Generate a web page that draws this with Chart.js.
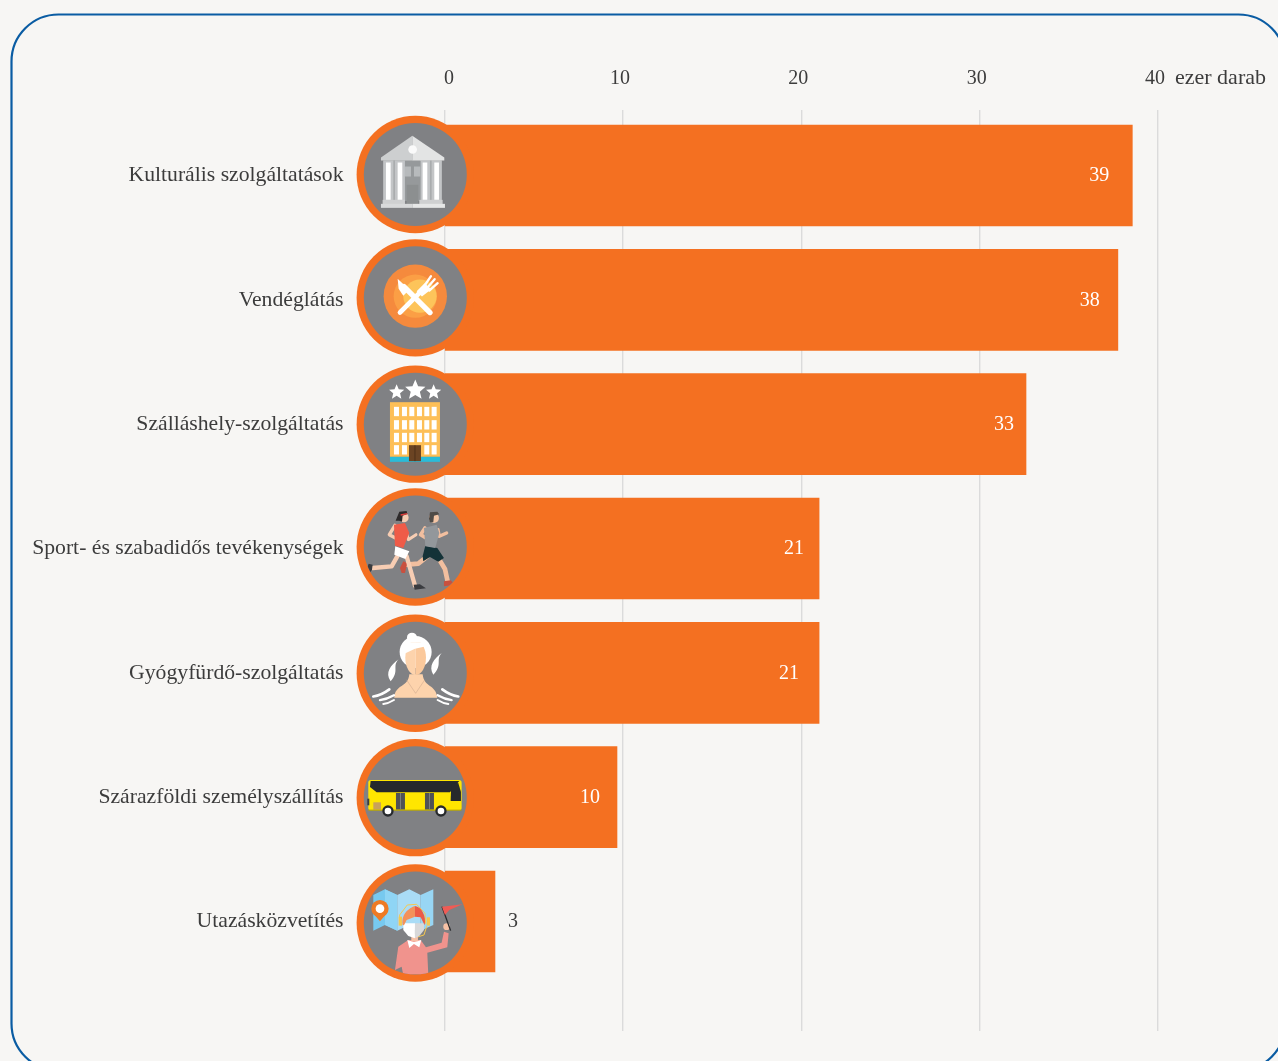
<!DOCTYPE html>
<html lang="hu">
<head>
<meta charset="utf-8">
<title>Szolgáltatások</title>
<style>
html,body{margin:0;padding:0;background:#f7f6f4;overflow:hidden}
canvas{display:block}
</style>
<script src="https://cdn.jsdelivr.net/npm/chart.js@4"></script>
</head>
<body>
<canvas id="c" width="1278" height="1061"></canvas>
<script>
const categories = ["Kulturális szolgáltatások","Vendéglátás","Szálláshely-szolgáltatás","Sport- és szabadidős tevékenységek","Gyógyfürdő-szolgáltatás","Szárazföldi személyszállítás","Utazásközvetítés"];
const values = [38.56,37.75,32.6,21.0,21.0,9.67,2.83];
const valueLabels = ["39","38","33","21","21","10","3"];
const tickValues = [0,10,20,30,40];
const unitLabel = "ezer darab";

const FONT = '"Liberation Serif", serif';
const ORANGE = '#f47021', GREY = '#808184', TEXT = '#3c3c3c', BG = '#f7f6f4';
const labelShift = [-33,-28,-22,-25,-30,-27,18];
const iconShift = [-1,-2,0,-1.5,0.5,0.5,1.5];

function poly(c,pts,fill){c.fillStyle=fill;c.beginPath();pts.forEach((p,i)=>i?c.lineTo(p[0],p[1]):c.moveTo(p[0],p[1]));c.closePath();c.fill();}
function rect(c,x0,y0,x1,y1,fill){c.fillStyle=fill;c.fillRect(x0,y0,x1-x0,y1-y0);}
function disc(c,x,y,r,fill){c.fillStyle=fill;c.beginPath();c.arc(x,y,r,0,Math.PI*2);c.fill();}
function oval(c,x,y,rx,ry,fill){c.fillStyle=fill;c.beginPath();c.ellipse(x,y,rx,ry,0,0,Math.PI*2);c.fill();}
function line(c,pts,w,col,cap){c.strokeStyle=col;c.lineWidth=w;c.lineCap=cap||'round';c.lineJoin='round';c.beginPath();pts.forEach((p,i)=>i?c.lineTo(p[0],p[1]):c.moveTo(p[0],p[1]));c.stroke();}
function star(c,x,y,r,fill){const p=[];for(let i=0;i<10;i++){const a=-Math.PI/2+i*Math.PI/5,q=i%2?r*0.45:r;p.push([x+q*Math.cos(a),y+q*Math.sin(a)]);}poly(c,p,fill);}

/* Icons are drawn in zoomed-up (3x) units around the circle's centre */
const icons = [
function(c){c.translate(-196,-194);
  rect(c,100,152,276,272,'#a9acae');
  [[105,125],[140,160],[215,235],[250,270]].forEach(a=>{rect(c,a[0]-5,152,a[1]+5,272,'#c3c5c7');rect(c,a[0]+3,158,a[1]-3,270,'#ffffff');});
  rect(c,165,152,212,272,'#96999b');
  rect(c,165,170,183,200,'#b7babc');rect(c,192,170,211,200,'#b7babc');
  rect(c,170,225,205,283,'#8c8f90');
  rect(c,98,270,165,283,'#cfd0d1');rect(c,208,270,278,283,'#cfd0d1');
  rect(c,93,282,187,294,'#d9dadb');rect(c,187,282,285,294,'#e6e7e7');
  poly(c,[[187,78],[93,143],[93,152],[187,152]],'#cdcfd0');
  poly(c,[[187,78],[283,143],[283,152],[187,152]],'#e3e4e4');
  disc(c,188,119,13,'#fafafa');
},
function(c){c.translate(-196,-562);
  disc(c,196,557,95,'#f58a3d');
  disc(c,196,557,65,'#fb9f45');
  disc(c,210,557,50,'#fdc45a');
  line(c,[[162,528],[240,606]],16,'#ffffff');
  poly(c,[[143,505],[178,538],[160,556],[146,535]],'#ffffff');
  line(c,[[150,606],[208,548]],14,'#ffffff');
  poly(c,[[200,542],[216,558],[244,536],[224,518]],'#ffffff');
  line(c,[[222,528],[243,497]],7,'#ffffff');
  line(c,[[230,534],[254,506]],7,'#ffffff');
  line(c,[[238,540],[263,518]],7,'#ffffff');
},
function(c){c.translate(-196,-192);
  star(c,140,96,24,'#ffffff');star(c,196,90,32,'#ffffff');star(c,251,96,24,'#ffffff');
  rect(c,120,126,270,290,'#fdbf57');rect(c,120,290,270,305,'#29bcd9');
  const xs=[132,156,178,201,223,245];
  [[140,168],[180,208],[218,246]].forEach(r=>xs.forEach(x=>rect(c,x,r[0],x+15,r[1],'#ffffff')));
  [132,156,223,245].forEach(x=>rect(c,x,255,x+15,283,'#ffffff'));
  rect(c,177,255,213,303,'#6b4423');rect(c,194,255,196,303,'#3f2713');
},
function(c){c.translate(-196,-562);
  /* man */
  line(c,[[232,590],[205,612],[170,615]],14,'#f2bf9f');
  poly(c,[[150,625],[160,605],[172,610],[165,640],[155,640]],'#c9503f');
  line(c,[[268,600],[285,628],[293,665]],14,'#f2bf9f');
  poly(c,[[282,665],[302,662],[316,675],[282,680]],'#c9503f');
  poly(c,[[226,558],[262,565],[282,595],[265,606],[240,592],[220,605],[218,590]],'#143238');
  line(c,[[225,505],[212,525],[245,545]],11,'#f2bf9f');
  line(c,[[264,510],[268,530],[290,520]],10,'#f2bf9f');
  poly(c,[[222,505],[260,495],[268,520],[256,565],[226,560]],'#93979b');
  disc(c,252,475,15,'#f4c6a6');
  poly(c,[[237,478],[240,458],[262,456],[268,464],[252,468],[250,488],[240,488]],'#4f4b47');
  /* woman */
  line(c,[[142,590],[125,620],[68,625]],13,'#f7cdb3');
  poly(c,[[46,640],[56,612],[68,615],[66,630],[56,645]],'#3a3c40');
  line(c,[[170,590],[180,625],[195,678]],13,'#f7cdb3');
  poly(c,[[191,675],[210,674],[228,686],[194,690]],'#3a3c40');
  poly(c,[[136,560],[178,575],[166,598],[133,585]],'#ffffff');
  line(c,[[135,497],[118,525],[155,545]],10,'#f7cdb3');
  line(c,[[170,520],[175,540],[198,525]],9,'#f7cdb3');
  poly(c,[[132,495],[165,490],[178,520],[160,565],[135,558]],'#ef5b48');
  disc(c,162,474,14,'#f7cdb3');
  poly(c,[[137,483],[148,456],[170,454],[172,463],[158,468],[156,486],[148,483]],'#2d2a2b');
  line(c,[[152,466],[172,462]],4,'#e23f3c','butt');
},
function(c){c.translate(-196,-192);
  c.fillStyle='#ffffff';
  c.beginPath();c.moveTo(146,150);c.bezierCurveTo(125,172,150,185,122,216);c.bezierCurveTo(104,190,122,168,146,150);c.fill();
  c.beginPath();c.moveTo(276,130);c.bezierCurveTo(255,152,280,165,250,196);c.bezierCurveTo(234,170,252,148,276,130);c.fill();
  disc(c,186,85,15,'#ffffff');
  oval(c,197,128,48,48,'#ffffff');
  c.fillStyle='#fdd3ac';c.beginPath();c.moveTo(133,265);c.bezierCurveTo(135,225,175,235,178,195);c.lineTo(218,195);c.bezierCurveTo(222,235,258,225,262,265);c.closePath();c.fill();
  c.save();c.beginPath();c.rect(150,100,47,110);c.clip();oval(c,197,145,31,52,'#fdd3ac');c.restore();
  c.save();c.beginPath();c.rect(197,100,47,110);c.clip();oval(c,197,145,31,52,'#fbc99c');c.restore();
  poly(c,[[160,135],[195,118],[222,112],[232,135],[235,100],[165,100]],'#ffffff');
  line(c,[[170,212],[197,252],[224,212]],1.5,'#c9a58a');
  const wave=(x0,x1,y,b,w)=>{c.strokeStyle='#ffffff';c.lineCap='round';c.lineWidth=w;c.beginPath();c.moveTo(x0,y);c.quadraticCurveTo((x0+x1)/2,y+b,x1,y+b*1.2);c.stroke();};
  wave(118,70,240,18,8);wave(132,90,258,12,7);wave(132,100,272,10,6);
  wave(277,325,240,18,8);wave(263,305,258,12,7);wave(263,295,272,10,6);
},
function(c){c.translate(-196,-562);
  c.fillStyle='#ffe600';c.beginPath();c.roundRect(55,509,280,91,8);c.fill();
  poly(c,[[62,512],[328,512],[300,546],[80,546],[60,530]],'#26292c');
  poly(c,[[304,520],[325,518],[333,545],[333,572],[302,572]],'#26292c');
  rect(c,138,548,165,598,'#4f5256');rect(c,225,548,252,598,'#4f5256');
  rect(c,150,548,153,598,'#7c7f82');rect(c,237,548,240,598,'#7c7f82');
  rect(c,70,576,93,598,'#c9a15a');
  rect(c,55,598,335,601,'#b5a400');
  rect(c,52,565,58,585,'#3a3c40');
  disc(c,114,602,17,'#26292c');disc(c,114,602,10,'#ffffff');
  disc(c,273,602,17,'#26292c');disc(c,273,602,10,'#ffffff');
},
function(c){c.translate(-196,-189);
  poly(c,[[70,105],[105,88],[142,105],[142,212],[105,195],[70,212]],'#77c9ef');
  poly(c,[[105,88],[142,105],[142,212],[105,195]],'#8fd5f5');
  poly(c,[[142,105],[178,88],[212,105],[212,212],[178,195],[142,212]],'#a9dcf6');
  poly(c,[[212,105],[250,88],[250,195],[212,212]],'#98d6f4');
  disc(c,90,146,26,'#ee7a24');
  poly(c,[[68,158],[112,158],[90,184]],'#ee7a24');
  disc(c,90,146,13,'#ffffff');
  line(c,[[149,190],[149,165],[172,135],[200,133],[225,160],[227,190]],3,'#f6c84e');
  line(c,[[200,232],[222,225],[230,200]],3,'#f6c84e');
  rect(c,146,170,156,197,'#f6c84e');rect(c,230,172,240,197,'#f6c84e');
  poly(c,[[145,260],[175,240],[212,240],[228,262],[275,248],[282,215],[296,220],[292,262],[232,278],[235,345],[160,345],[155,320],[135,330]],'#f0938d');
  poly(c,[[172,240],[192,246],[214,240],[208,262],[192,252],[178,264]],'#ffffff');
  rect(c,184,222,204,244,'#f7c1a5');
  poly(c,[[160,190],[195,190],[195,235],[175,228],[160,210]],'#ffffff');
  poly(c,[[195,190],[222,190],[222,210],[208,228],[195,235]],'#d8d9da');
  c.fillStyle='#f3925a';c.beginPath();c.moveTo(158,195);c.bezierCurveTo(152,150,195,138,195,138);c.lineTo(195,170);c.lineTo(170,180);c.lineTo(162,196);c.closePath();c.fill();
  c.fillStyle='#ec5b45';c.beginPath();c.moveTo(195,138);c.bezierCurveTo(215,140,230,170,224,196);c.lineTo(212,172);c.lineTo(195,170);c.closePath();c.fill();
  disc(c,290,200,10,'#f7c1a5');
  line(c,[[276,140],[302,212]],4,'#26292c','butt');
  poly(c,[[276,140],[338,133],[298,150],[285,165]],'#ef5b55');
}
];

const decor = {
  id:'decor',
  beforeDraw(ch){
    const c=ch.ctx;c.save();
    c.fillStyle=BG;c.fillRect(0,0,ch.width,ch.height);
    c.strokeStyle='#0a5ca3';c.lineWidth=2.2;
    c.beginPath();c.roundRect(11.5,14.5,1274,1056,47);c.stroke();
    c.restore();
  },
  afterDatasetsDraw(ch){
    const c=ch.ctx,xs=ch.scales.x,ys=ch.scales.y;
    c.save();
    values.forEach((v,i)=>{
      const px=xs.getPixelForValue(v),py=ys.getPixelForValue(i);
      c.font='20px '+FONT;c.textAlign='center';c.textBaseline='middle';
      c.fillStyle=i===values.length-1?TEXT:'#ffffff';
      c.fillText(valueLabels[i],px+labelShift[i],py+0.5);
      const cx=xs.getPixelForValue(0)-29.2,cy=py+iconShift[i];
      c.save();
      disc(c,cx,cy,58.7,ORANGE);
      disc(c,cx,cy,51.5,GREY);
      c.translate(cx,cy);c.scale(1/3,1/3);
      c.beginPath();c.arc(0,0,154,0,Math.PI*2);c.clip();
      icons[i](c);
      c.restore();
    });
    c.font='22px '+FONT;c.textAlign='left';c.textBaseline='middle';c.fillStyle=TEXT;
    c.fillText(unitLabel,1175,78);
    c.restore();
  }
};

new Chart(document.getElementById('c'),{
  type:'bar',
  data:{datasets:[{
    data:values.map((v,i)=>({x:v,y:i})),
    backgroundColor:ORANGE,borderWidth:0,barThickness:101
  }]},
  options:{
    indexAxis:'y',responsive:false,animation:false,devicePixelRatio:1,
    layout:{autoPadding:false,padding:{top:0,right:120,bottom:30,left:0}},
    plugins:{legend:{display:false},tooltip:{enabled:false},title:{display:false}},
    scales:{
      x:{
        type:'linear',position:'top',min:0,max:40,
        afterBuildTicks(s){s.ticks=tickValues.map(v=>({value:v}));},
        afterFit(s){s.height=110;s.paddingLeft=0;s.paddingRight=0;},
        grid:{color:'#dbdbdb',lineWidth:1.4,drawTicks:false},
        border:{display:false},
        ticks:{color:TEXT,font:{family:FONT,size:20},padding:19,labelOffset:-3,maxRotation:0,autoSkip:false,
          callback:v=>v===0?'   0':String(v)}
      },
      y:{
        type:'linear',reverse:true,offset:false,min:-0.527,max:6.881,
        afterBuildTicks(s){s.ticks=categories.map((_,i)=>({value:i}));},
        afterFit(s){s.width=444.5;s.paddingTop=0;s.paddingBottom=0;},
        grid:{display:false,drawTicks:false},
        border:{display:false},
        ticks:{color:TEXT,font:{family:FONT,size:21.7},padding:101,autoSkip:false,
          callback:v=>categories[v]}
      }
    }
  },
  plugins:[decor]
});
</script>
</body>
</html>
